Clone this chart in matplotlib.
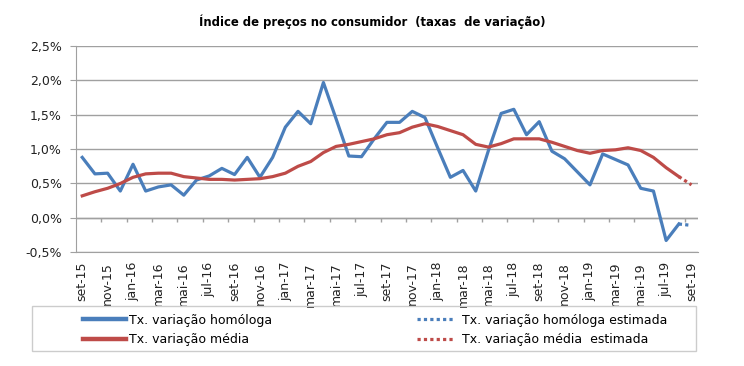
import numpy as np
import matplotlib.pyplot as plt
from matplotlib.patches import Rectangle

plt.rcParams['font.family'] = ['DejaVu Sans']

months = ['set', 'out', 'nov', 'dez', 'jan', 'fev', 'mar', 'abr', 'mai', 'jun', 'jul', 'ago']
labels = []
for i in range(49):
    m = months[i % 12]
    yr = 15 + (i + 8) // 12
    labels.append(f"{m}-{yr}")

homologa = [0.88, 0.64, 0.65, 0.39, 0.78, 0.39, 0.45, 0.48, 0.33, 0.55, 0.61, 0.72,
            0.63, 0.88, 0.59, 0.88, 1.32, 1.55, 1.37, 1.97, 1.44, 0.90, 0.89, 1.15,
            1.39, 1.39, 1.55, 1.46, 1.02, 0.59, 0.69, 0.39, 0.98, 1.52, 1.58, 1.21,
            1.40, 0.97, 0.86, 0.67, 0.48, 0.93, 0.85, 0.77, 0.43, 0.39, -0.33, -0.09]
media = [0.32, 0.38, 0.43, 0.50, 0.59, 0.64, 0.65, 0.65, 0.60, 0.58, 0.56, 0.56,
         0.55, 0.56, 0.57, 0.60, 0.65, 0.75, 0.82, 0.95, 1.04, 1.07, 1.11, 1.15,
         1.21, 1.24, 1.32, 1.37, 1.33, 1.27, 1.21, 1.07, 1.03, 1.08, 1.15, 1.15,
         1.15, 1.10, 1.04, 0.98, 0.94, 0.98, 0.99, 1.02, 0.98, 0.88, 0.73, 0.60]
homologa_est = [-0.09, -0.11]
media_est = [0.60, 0.48]

blue = '#4a7ebb'
red = '#be4b48'
grid = '#a0a0a0'

fig = plt.figure(figsize=(7.44, 3.66), dpi=100)
ax = fig.add_axes([0.102, 0.311, 0.836, 0.563])

x = np.arange(len(homologa))
x_est = np.arange(len(homologa) - 1, len(homologa) + 1)

l1, = ax.plot(x, homologa, color=blue, lw=2.3)
l2, = ax.plot(x, media, color=red, lw=2.3)
l3, = ax.plot(x_est, homologa_est, color=blue, lw=2.3, ls=(0, (1, 1)))
l4, = ax.plot(x_est, media_est, color=red, lw=2.3, ls=(0, (1, 1)))

ax.set_xlim(-0.5, len(labels) - 0.5)
ax.set_ylim(-0.5, 2.5)
yt = np.arange(-0.5, 2.51, 0.5)
ax.set_yticks(yt)
ax.set_yticklabels([f"{v:.1f}%".replace('.', ',') for v in yt], fontsize=9)
ax.yaxis.grid(True, color=grid, lw=1)
ax.set_axisbelow(True)
ax.tick_params(axis='y', length=4, color=grid, pad=6, labelcolor='#222222')

ax.set_xticks(np.arange(0, len(labels), 2))
ax.set_xticklabels(labels[::2], rotation=90, fontsize=9)
ax.tick_params(axis='x', length=0, pad=7, labelcolor='#222222')

# category axis line at 0 with tick marks between categories
ax.axhline(0, color=grid, lw=1, zorder=1)
ax.vlines(np.arange(1.5, len(labels) - 0.5, 2), -0.06, 0, color=grid, lw=1, zorder=1)

for s in ['top', 'right']:
    ax.spines[s].set_visible(False)
ax.spines['left'].set_color(grid)
ax.spines['bottom'].set_color(grid)

fig.text(0.5, 0.94, 'Índice de preços no consumidor  (taxas  de variação)',
         ha='center', va='center', fontsize=8.4, fontweight='bold')

# legend frame and two columns
fig.add_artist(Rectangle((32 / 744, 1 - 351 / 366), 664 / 744, 45 / 366,
                         transform=fig.transFigure, fill=False, ec='#cccccc', lw=1))
kw = dict(frameon=False, fontsize=9, borderpad=0, borderaxespad=0,
          labelspacing=0.55, loc='center left')
leg1 = fig.legend([l1, l2], ['Tx. variação homóloga', 'Tx. variação média'],
                  bbox_to_anchor=(83 / 744, 1 - 330 / 366), handlelength=3.4,
                  handletextpad=0.3, **kw)
for ln in leg1.get_lines():
    ln.set_linewidth(3.2)
leg2 = fig.legend([l3, l4], ['Tx. variação homóloga estimada', 'Tx. variação média  estimada'],
                  bbox_to_anchor=(417 / 744, 1 - 330 / 366), handlelength=3.0,
                  handletextpad=0.6, **kw)

fig.savefig('out.png', dpi=100)
